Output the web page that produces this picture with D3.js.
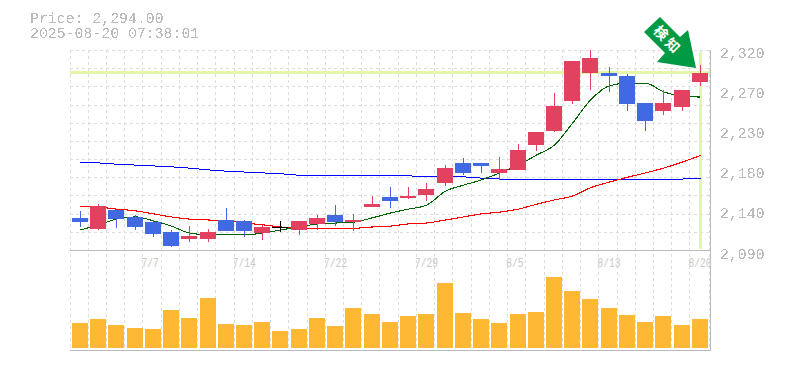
<!DOCTYPE html>
<html>
<head>
<meta charset="utf-8">
<script src="https://cdnjs.cloudflare.com/ajax/libs/d3/7.8.5/d3.min.js"></script>
<style>
    html, body { margin: 0; padding: 0; background: #fff; overflow: hidden; }
    text { font-family: "Liberation Mono", monospace; fill: #bbb; }
</style>
</head>
<body>
<div id="chart"></div>
<script>
// trading days
const dates = ['7/1','7/2','7/3','7/4','7/7','7/8','7/9','7/10','7/11','7/14','7/15','7/16','7/17','7/18','7/22','7/23','7/24','7/25',
    '7/28','7/29','7/30','7/31','8/1','8/4','8/5','8/6','8/7','8/8','8/12','8/13','8/14','8/15','8/18','8/19','8/20'];

// candles
const opens = [2127.5,2114.5,2136.5,2128.5,2122.5,2111,2103,2103,2125,2124,2110,2117,2113.5,2120.5,2130.5,2122.5,2140,2151.5,
    2150,2153.5,2167.5,2190.5,2190.5,2179,2182.5,2211,2227,2261.5,2293.5,2293.5,2290,2259,2250,2254.5,2283.5];
const highs = [2135.5,2143.5,2136.5,2130.5,2125,2113.5,2118,2114.5,2139,2125,2119.5,2124,2124,2130.5,2142,2132,2152.5,2163,
    2163,2167.5,2188,2196,2190.5,2197.5,2212,2226,2270.5,2307.5,2320,2300.5,2292.5,2259,2274,2274,2303];
const lows = [2117,2113.5,2116,2113.5,2105.5,2094,2100,2100,2112.5,2105.5,2102,2111,2108,2113.5,2118,2112.5,2140,2139,
    2149,2147,2164,2176.5,2179,2171,2182.5,2204,2226,2258,2274,2272,2250,2227,2245.5,2250,2278.5];
const closes = [2122.5,2141,2126,2117,2109,2095,2106.5,2111,2112.5,2112.5,2117,2117,2124,2127.5,2122.5,2125,2143.5,2147,
    2152.5,2160.5,2184.5,2179,2187,2183.5,2205.5,2226,2256,2307.5,2311,2290,2258,2238.5,2259,2274,2294];

// moving averages
const maShort = [2113.5,2119.5,2126,2128.5,2124,2118,2110,2108,2108,2108,2110,2113.5,2117,2120.5,2121.5,2122.5,2127.5,2133,
    2137.5,2142,2158,2165,2171,2179,2188,2199.5,2211,2236,2262.5,2279,2282,2282,2272,2267,2266];
const maMid = [2141,2140,2137.5,2135.5,2132,2128.5,2126,2125,2124,2121.5,2119.5,2117,2116,2115.5,2115.5,2115.5,2117,2118,
    2120.5,2121.5,2125,2128.5,2132,2134,2137.5,2143,2148,2152.5,2162,2168.5,2174,2179,2184.5,2191.5,2199];
const maLong = [2191.5,2190.5,2189,2188,2187,2186,2184.5,2182.5,2181,2180,2179,2178,2176.5,2176.5,2176,2175.5,2175.5,2175.5,
    2175.5,2175,2175,2174.5,2173,2172,2172,2172,2172,2172,2172,2172,2172,2172,2172,2172,2173];

// volume, relative height (the reference has no volume axis)
const volumes = [25,29,23,20,19,38,30,50,24,23,26,17,19,30,22,40,34,26,32,34,65,35,29,25,34,36,71,57,49,40,33,26,32,23,29];

const priceTicks = [2320,2274,2228,2182,2136,2090];
const dateTicks = ['7/7','7/14','7/22','7/29','8/5','8/13','8/20'];
const lastPrice = 2294;
const titleLines = ['Price: 2,294.00', '2025-08-20 07:38:01'];
const badgeText = ['検','知'];

const colors = {up: '#e2425f', down: '#4169e1', flat: '#000', vol: '#ffb833', grid: '#ddd', frame: '#bbb',
    mark: '#e4f6a8', badge: '#009944'};

let svg = d3.select('#chart').append('svg')
    .attr('width', 785)
    .attr('height', 370)
    .style('display', 'block');

// hard edged text, the original has no smoothing
let jagged = svg.append('defs').append('filter').attr('id', 'jagged')
    .append('feComponentTransfer');
jagged.append('feFuncA').attr('type', 'discrete').attr('tableValues', '0 0 1 1');

let x = d3.scaleBand().domain(dates).range([70, 708.2]);
let y = d3.scaleLinear().domain([2090, 2320]).range([250.5, 50]);
let yVol = d3.scaleLinear().domain([0, 100]).range([348, 248]);
let yGrid = d3.scaleLinear().domain([0, 11]).range([50.5, 250.5]);

// pixel of the left edge of a candle or a volume bar
let left = d => Math.round(x(d) + 1.9);
let mid = d => left(d) + 8;

// grid
let grid = svg.append('g')
    .attr('stroke', colors.grid)
    .attr('stroke-dasharray', '3,3')
    .attr('shape-rendering', 'crispEdges');
grid.selectAll('.h').data(d3.range(0, 11)).enter().append('line')
    .attr('class', 'h')
    .attr('x1', 70).attr('x2', 710)
    .attr('y1', d => Math.floor(yGrid(d)) + 0.5)
    .attr('y2', d => Math.floor(yGrid(d)) + 0.5);
grid.selectAll('.v').data(dates).enter().append('line')
    .attr('class', 'v')
    .attr('x1', d => Math.floor(x(d)) + 0.5)
    .attr('x2', d => Math.floor(x(d)) + 0.5)
    .attr('y1', 50).attr('y2', 350);
grid.append('line')
    .attr('x1', 709.5).attr('x2', 709.5)
    .attr('y1', 50).attr('y2', 350);

// last price and last day markers
svg.append('rect')
    .attr('x', 70).attr('width', 640)
    .attr('y', Math.round(y(lastPrice)) - 2).attr('height', 3)
    .attr('fill', colors.mark);
svg.append('rect')
    .attr('x', mid(dates[34]) - 1).attr('width', 3)
    .attr('y', 51).attr('height', 198)
    .attr('fill', colors.mark);

// frame
let frame = svg.append('g')
    .attr('stroke', colors.frame)
    .attr('shape-rendering', 'crispEdges');
frame.append('line').attr('x1', 70).attr('x2', 710).attr('y1', 250.5).attr('y2', 250.5);
frame.append('line').attr('x1', 70).attr('x2', 710).attr('y1', 350.5).attr('y2', 350.5);
frame.append('line').attr('x1', 710.5).attr('x2', 710.5).attr('y1', 50).attr('y2', 351);

// moving averages
let maLine = d3.line()
    .curve(d3.curveMonotoneX)
    .x((d, i) => mid(dates[i]) + 0.5)
    .y(d => y(d));
[[maLong, '#0000ff', 1], [maMid, '#ff0000', 1.1], [maShort, '#006400', 1.1]].forEach(function (s) {
    svg.append('path')
        .datum(s[0])
        .attr('d', maLine)
        .attr('fill', 'none')
        .attr('stroke', s[1])
        .attr('stroke-width', s[2])
        .attr('shape-rendering', 'crispEdges');
});

// candles
let candleColor = i => closes[i] > opens[i] ? colors.up : closes[i] < opens[i] ? colors.down : colors.flat;
let candles = svg.append('g').attr('shape-rendering', 'crispEdges');
candles.selectAll('.wick').data(dates).enter().append('rect')
    .attr('class', 'wick')
    .attr('x', d => mid(d))
    .attr('width', 1)
    .attr('y', (d, i) => Math.round(y(highs[i])))
    .attr('height', (d, i) => Math.round(y(lows[i])) - Math.round(y(highs[i])))
    .attr('fill', (d, i) => candleColor(i));
candles.selectAll('.body').data(dates).enter().append('rect')
    .attr('class', 'body')
    .attr('x', d => left(d))
    .attr('width', 16)
    .attr('y', (d, i) => Math.round(y(Math.max(opens[i], closes[i]))))
    .attr('height', (d, i) => Math.max(1, Math.round(y(Math.min(opens[i], closes[i]))) - Math.round(y(Math.max(opens[i], closes[i])))))
    .attr('fill', (d, i) => candleColor(i));

// volume
svg.append('g')
    .attr('shape-rendering', 'crispEdges')
    .selectAll('rect').data(dates).enter().append('rect')
    .attr('x', d => left(d))
    .attr('width', 16)
    .attr('y', (d, i) => yVol(volumes[i]))
    .attr('height', (d, i) => yVol(0) - yVol(volumes[i]))
    .attr('fill', colors.vol);

// axes
let yAxis = d3.axisRight(y)
    .tickValues(priceTicks)
    .tickSize(0)
    .tickPadding(10)
    .tickFormat(d => d3.format(',')(Math.round(d / 10) * 10));
let gy = svg.append('g').attr('transform', 'translate(710,0)').attr('filter', 'url(#jagged)').call(yAxis);
gy.select('.domain').remove();
gy.selectAll('text')
    .attr('dy', 7.5)
    .style('font-family', '"Liberation Mono", monospace')
    .style('font-size', '14.85px');

let xAxis = d3.axisBottom(x)
    .tickValues(dateTicks)
    .tickSize(0)
    .tickPadding(0);
let gx = svg.append('g').attr('transform', 'translate(0,257)').call(xAxis);
gx.select('.domain').remove();
gx.selectAll('text')
    .attr('text-anchor', 'start')
    .attr('dx', -10.5)
    .attr('y', 10)
    .attr('dy', 0)
    .attr('textLength', d => d.length * 5.75)
    .attr('lengthAdjust', 'spacingAndGlyphs')
    .style('font-family', '"Liberation Mono", monospace')
    .style('font-size', '13.5px')
    .style('fill', '#c8c8c8');

// title
svg.append('g').attr('filter', 'url(#jagged)')
    .selectAll('.title').data(titleLines).enter().append('text')
    .attr('class', 'title')
    .attr('x', 30)
    .attr('y', (d, i) => 23 + i * 15)
    .style('font-size', '14.85px')
    .text(d => d);

// badge arrow
svg.append('polygon')
    .attr('points', '660,17 644,32 665,53 657,62 696,68 688,30 680,37')
    .attr('fill', colors.badge);
svg.selectAll('.badge').data(badgeText).enter().append('text')
    .attr('class', 'badge')
    .attr('text-anchor', 'middle')
    .attr('transform', (d, i) => `translate(${661 + i * 11.5},${33 + i * 12.5}) rotate(45)`)
    .attr('dy', 5)
    .style('font-family', '"Noto Sans CJK JP", sans-serif')
    .style('font-weight', 'bold')
    .style('font-size', '14px')
    .style('fill', '#fff')
    .text(d => d);
</script>
</body>
</html>
